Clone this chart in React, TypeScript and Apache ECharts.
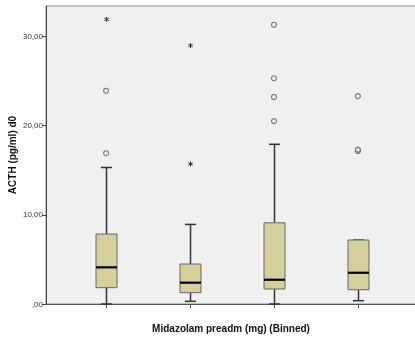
import React, { useEffect, useRef } from "react";
import * as echarts from "echarts";

const categories = [1, 2, 3, 4];
const lowWhisker = [0, 0.3, 0, 0.37];
const q1 = [1.83, 1.27, 1.68, 1.6];
const median = [4.11, 2.39, 2.72, 3.5];
const q3 = [7.84, 4.48, 9.1, 7.17];
const highWhisker = [15.3, 8.92, 17.9, 7.17];
const outlierCat = [1, 1, 3, 3, 3, 3, 4, 4, 4];
const outlierVal = [23.9, 16.9, 31.3, 25.3, 23.2, 20.5, 23.3, 17.15, 17.3];
const extremeCat = [1, 2, 2];
const extremeVal = [31.9, 28.97, 15.7];
const yTicks = [0, 10, 20, 30];

const FONT = "Liberation Sans, Arial, sans-serif";

export default function App() {
  const ref = useRef<HTMLDivElement>(null);
  useEffect(() => {
    document.body.style.margin = "0";
    const chart = echarts.init(ref.current!, null, { renderer: "svg" });
    const boxData = categories.map((c, i) => [c, lowWhisker[i], q1[i], median[i], q3[i], highWhisker[i]]);
    const outData = outlierCat.map((c, i) => [c, outlierVal[i]]);
    const extData = extremeCat.map((c, i) => [c, extremeVal[i]]);
    const option: any = {
      animation: false,
      grid: {
        left: 46,
        top: 6,
        right: -1,
        bottom: 33,
        containLabel: false,
        outerBoundsMode: "none",
        show: true,
        backgroundColor: "#f0f0f0",
        borderColor: "#8c8c8c",
        borderWidth: 1,
      },
      xAxis: {
        type: "value",
        min: 0.284,
        max: 4.692,
        axisLine: { show: true, onZero: false, lineStyle: { color: "#555", width: 1 } },
        axisTick: { show: false },
        axisLabel: { show: false },
        splitLine: { show: false },
        name: "Midazolam preadm (mg) (Binned)",
        nameLocation: "middle",
        nameMoveOverlap: false,
        nameGap: 19,
        nameTextStyle: { fontFamily: FONT, fontWeight: "bold", fontSize: 10, color: "#111" },
      },
      yAxis: {
        type: "value",
        min: 0,
        max: 33.4,
        axisLine: { show: true, lineStyle: { color: "#444", width: 1 } },
        axisTick: { show: true, length: 4, customValues: yTicks, lineStyle: { color: "#444" } },
        axisLabel: {
          customValues: yTicks,
          fontFamily: FONT,
          fontSize: 8,
          color: "#333",
          margin: 3,
          formatter: (v: number) => (v === 0 ? ",00" : v.toFixed(2).replace(".", ",")),
        },
        splitLine: { show: false },
        name: "ACTH (pg/ml) d0",
        nameLocation: "middle",
        nameMoveOverlap: false,
        nameGap: 29,
        nameTextStyle: { fontFamily: FONT, fontWeight: "bold", fontSize: 10, color: "#111" },
      },
      series: [
        {
          type: "custom",
          data: boxData,
          clip: false,
          renderItem: (params: any, api: any) => {
            const x = api.value(0);
            const pLow = api.coord([x, api.value(1)]);
            const pQ1 = api.coord([x, api.value(2)]);
            const pMed = api.coord([x, api.value(3)]);
            const pQ3 = api.coord([x, api.value(4)]);
            const pHigh = api.coord([x, api.value(5)]);
            const pAxis = api.coord([x, 0]);
            const cx = Math.round(pLow[0]) + 0.5;
            const hw = 10.5;
            const cw = 5.5;
            const wStyle = { stroke: "#333", lineWidth: 1.5 };
            return {
              type: "group",
              children: [
                { type: "line", shape: { x1: cx, y1: pAxis[1], x2: cx, y2: pAxis[1] + 4 }, style: { stroke: "#555", lineWidth: 1 } },
                { type: "line", shape: { x1: cx, y1: pHigh[1], x2: cx, y2: pQ3[1] }, style: wStyle },
                { type: "line", shape: { x1: cx, y1: pQ1[1], x2: cx, y2: pLow[1] }, style: wStyle },
                { type: "line", shape: { x1: cx - cw, y1: pHigh[1], x2: cx + cw, y2: pHigh[1] }, style: wStyle },
                { type: "line", shape: { x1: cx - cw, y1: pLow[1], x2: cx + cw, y2: pLow[1] }, style: wStyle },
                {
                  type: "rect",
                  shape: { x: cx - hw, y: pQ3[1], width: hw * 2, height: pQ1[1] - pQ3[1] },
                  style: { fill: "#d4cf9b", stroke: "#666", lineWidth: 1 },
                },
                { type: "line", shape: { x1: cx - hw, y1: pMed[1], x2: cx + hw, y2: pMed[1] }, style: { stroke: "#000", lineWidth: 2.2 } },
              ],
            };
          },
        },
        {
          type: "scatter",
          data: outData,
          symbol: "circle",
          symbolSize: 5,
          itemStyle: { color: "#f0f0f0", borderColor: "#555", borderWidth: 1.1 },
        },
        {
          type: "custom",
          data: extData,
          clip: false,
          renderItem: (params: any, api: any) => {
            const p = api.coord([api.value(0), api.value(1)]);
            const x = p[0] + 0.5;
            const y = p[1];
            const s = { stroke: "#333", lineWidth: 1 };
            return {
              type: "group",
              children: [
                { type: "line", shape: { x1: x, y1: y - 2.5, x2: x, y2: y + 2.5 }, style: s },
                { type: "line", shape: { x1: x - 2.2, y1: y - 1.2, x2: x + 2.2, y2: y + 1.2 }, style: s },
                { type: "line", shape: { x1: x - 2.2, y1: y + 1.2, x2: x + 2.2, y2: y - 1.2 }, style: s },
              ],
            };
          },
        },
      ],
    };
    chart.setOption(option);
    return () => chart.dispose();
  }, []);
  return <div ref={ref} style={{ position: "fixed", left: 0, top: 0, width: 415, height: 337 }} />;
}
